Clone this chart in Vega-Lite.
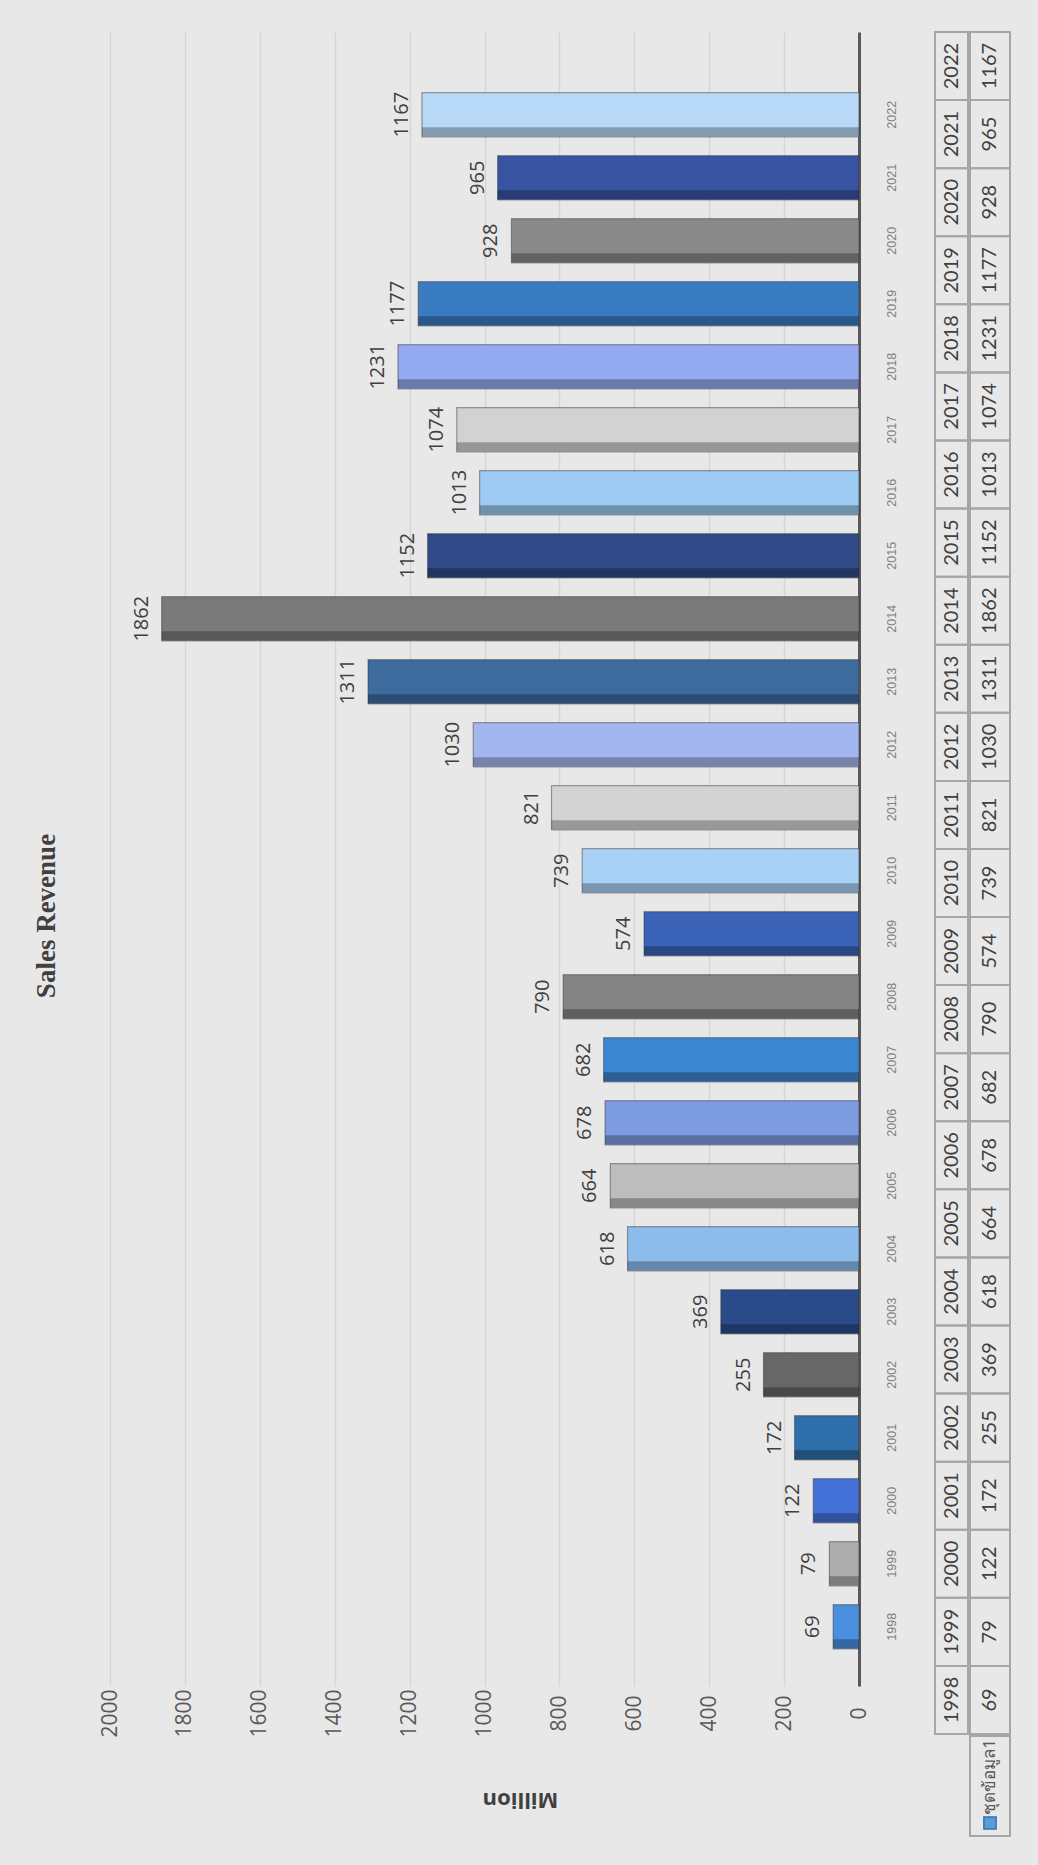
{
  "$schema": "https://vega.github.io/schema/vega-lite/v6.json",
  "background": "#e8e8e8",
  "padding": {"left": 32, "top": 31, "right": 29, "bottom": 32},
  "title": {
    "text": "Sales Revenue",
    "orient": "left",
    "anchor": "middle",
    "font": "Liberation Serif",
    "fontSize": 27,
    "fontWeight": "bold",
    "color": "#404040",
    "offset": 38,
    "dx": 18
  },
  "datasets": {
    "sales": [
      {"year": 1998, "value": 69},
      {"year": 1999, "value": 79},
      {"year": 2000, "value": 122},
      {"year": 2001, "value": 172},
      {"year": 2002, "value": 255},
      {"year": 2003, "value": 369},
      {"year": 2004, "value": 618},
      {"year": 2005, "value": 664},
      {"year": 2006, "value": 678},
      {"year": 2007, "value": 682},
      {"year": 2008, "value": 790},
      {"year": 2009, "value": 574},
      {"year": 2010, "value": 739},
      {"year": 2011, "value": 821},
      {"year": 2012, "value": 1030},
      {"year": 2013, "value": 1311},
      {"year": 2014, "value": 1862},
      {"year": 2015, "value": 1152},
      {"year": 2016, "value": 1013},
      {"year": 2017, "value": 1074},
      {"year": 2018, "value": 1231},
      {"year": 2019, "value": 1177},
      {"year": 2020, "value": 928},
      {"year": 2021, "value": 965},
      {"year": 2022, "value": 1167}
    ],
    "legend": [{"series": "ชุดข้อมูล1"}]
  },
  "spacing": 36,
  "hconcat": [
    {
      "width": 749,
      "height": 1654,
      "data": {"name": "sales"},
      "encoding": {
        "y": {
          "field": "year",
          "type": "ordinal",
          "sort": "descending",
          "scale": {"paddingInner": 0.3, "paddingOuter": 0.777, "align": 0.62},
          "axis": {
            "orient": "right",
            "title": null,
            "labelAngle": 270,
            "labelAlign": "center",
            "labelBaseline": "middle",
            "labelPadding": 32,
            "ticks": false,
            "labelFontSize": 12.5,
            "labelFont": "Liberation Sans",
            "labelColor": "#7f7f7f",
            "domainColor": "#595959",
            "domainWidth": 3,
            "grid": false
          }
        },
        "x": {
          "field": "value",
          "type": "quantitative",
          "scale": {"domain": [0, 2000], "reverse": true, "nice": false},
          "axis": {
            "values": [0, 200, 400, 600, 800, 1000, 1200, 1400, 1600, 1800, 2000],
            "format": "d",
            "title": "Million",
            "titleAngle": 180,
            "titleBaseline": "bottom",
            "titleFont": "Open Sans",
            "titleFontSize": 22,
            "titleFontWeight": "bold",
            "titleColor": "#404040",
            "titlePadding": 50,
            "titleX": 410,
            "labelAngle": 270,
            "labelAlign": "center",
            "labelBaseline": "middle",
            "labelPadding": 27,
            "labelFont": "Open Sans",
            "labelFontSize": 21,
            "labelColor": "#595959",
            "ticks": false,
            "domain": false,
            "grid": true,
            "gridColor": "#d6d6d6",
            "gridWidth": 1.5
          }
        }
      },
      "layer": [
        {
          "mark": {"type": "bar", "stroke": "#2f2f2f", "strokeOpacity": 0.45, "strokeWidth": 1.2},
          "encoding": {
            "fill": {
              "field": "year",
              "type": "nominal",
              "legend": null,
              "scale": {
                "domain": [1998, 1999, 2000, 2001, 2002, 2003, 2004, 2005, 2006, 2007, 2008, 2009, 2010, 2011, 2012, 2013, 2014, 2015, 2016, 2017, 2018, 2019, 2020, 2021, 2022],
                "range": ["#4a8fe0", "#adadad", "#4472d8", "#2e6eaa", "#676767", "#2b4a8a", "#8cbcec", "#bdbdbd", "#7c9be0", "#3b86d0", "#848484", "#3a63b8", "#a9d0f5", "#d3d3d3", "#a4b6ef", "#3d6b9e", "#7a7a7a", "#2f4a86", "#9ccaf2", "#d2d2d2", "#93a9f0", "#3a7cc2", "#8a8a8a", "#3853a2", "#b7d9f7"]
              }
            }
          }
        },
        {
          "mark": {"type": "bar", "height": 9, "yOffset": 17, "fill": "#000000", "fillOpacity": 0.28, "strokeWidth": 0}
        },
        {
          "mark": {"type": "text", "angle": 270, "align": "center", "baseline": "bottom", "dy": -10, "font": "Open Sans", "fontSize": 20, "color": "#404040"},
          "encoding": {"text": {"field": "value", "type": "nominal"}}
        }
      ]
    },
    {
      "spacing": 0,
      "hconcat": [
        {
          "width": 33,
          "height": 1702,
          "data": {"name": "sales"},
          "encoding": {
            "y": {"field": "year", "type": "ordinal", "sort": "descending", "axis": null, "scale": {"paddingInner": 0, "paddingOuter": 0}}
          },
          "layer": [
            {"mark": {"type": "rect", "fillOpacity": 0, "stroke": "#a6a6a6", "strokeWidth": 2}},
            {
              "mark": {"type": "text", "angle": 270, "align": "center", "baseline": "middle", "font": "Lato", "fontSize": 20, "color": "#404040"},
              "encoding": {"text": {"field": "year", "type": "nominal"}}
            }
          ]
        },
        {
          "spacing": 0,
          "vconcat": [
            {
              "width": 40,
              "height": 1702,
              "data": {"name": "sales"},
              "encoding": {
                "y": {"field": "year", "type": "ordinal", "sort": "descending", "axis": null, "scale": {"paddingInner": 0, "paddingOuter": 0}}
              },
              "layer": [
                {"mark": {"type": "rect", "fillOpacity": 0, "stroke": "#a6a6a6", "strokeWidth": 2}},
                {
                  "mark": {"type": "text", "angle": 270, "align": "center", "baseline": "middle", "font": "Lato", "fontSize": 20, "color": "#404040"},
                  "encoding": {"text": {"field": "value", "type": "nominal"}}
                }
              ]
            },
            {
              "width": 40,
              "height": 100,
              "data": {"name": "legend"},
              "view": {"stroke": "#a6a6a6", "strokeWidth": 2},
              "layer": [
                {
                  "mark": {"type": "text", "angle": 270, "align": "center", "baseline": "middle", "dx": 9, "font": "Noto Sans", "fontSize": 17, "color": "#595959"},
                  "encoding": {"text": {"field": "series", "type": "nominal"}}
                },
                {
                  "mark": {"type": "point", "shape": "square", "filled": true, "size": 150, "fill": "#5b9bd5", "stroke": "#2e75b6", "strokeWidth": 1.5, "opacity": 1, "yOffset": 37}
                }
              ]
            }
          ]
        }
      ]
    }
  ],
  "config": {
    "view": {"stroke": null},
    "font": "Open Sans"
  }
}
